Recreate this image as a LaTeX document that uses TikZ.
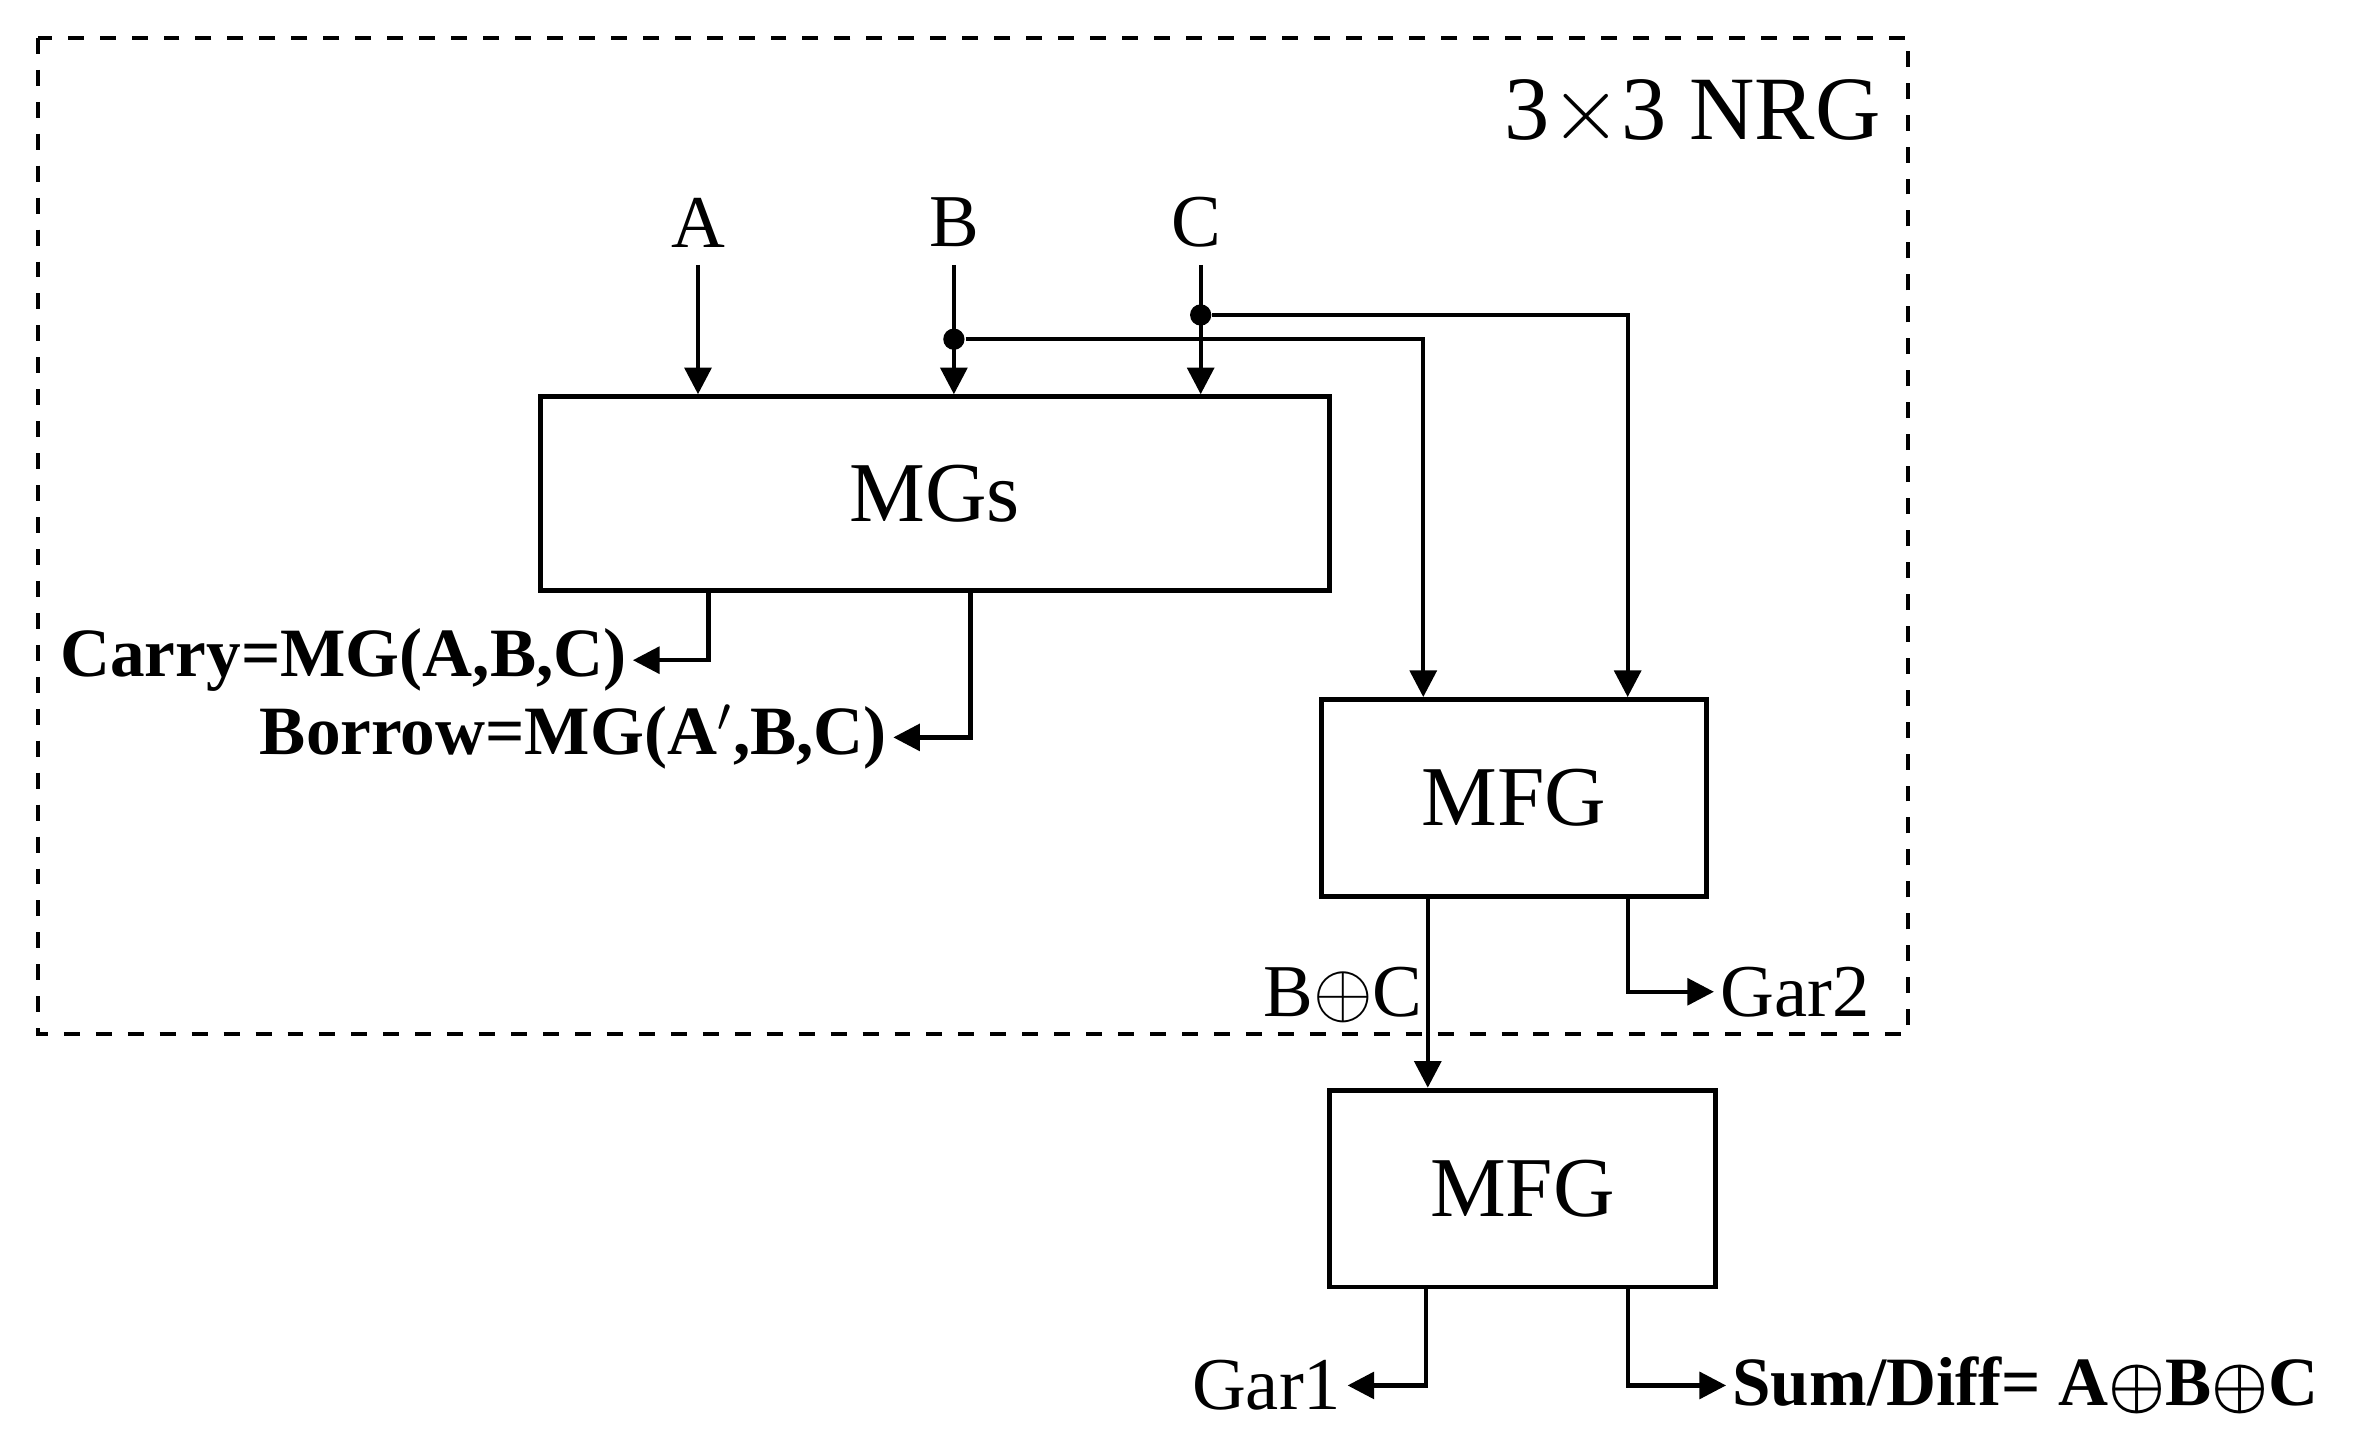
\documentclass[tikz,border=0pt]{standalone}
\usepackage{amsmath}
\usepackage{amssymb}
\usepackage{fontspec}
\setmainfont{Liberation Serif}
\usetikzlibrary{arrows.meta}
\begin{document}
\begin{tikzpicture}[x=0.01cm,y=-0.01cm,
  blk/.style={draw, line width=0.9pt, inner sep=0pt, font=\fontsize{16}{18}\selectfont},
  lbl/.style={inner sep=1pt, font=\fontsize{14}{16}\selectfont},
  blbl/.style={inner sep=1pt, font=\fontsize{13}{15}\selectfont\bfseries},
  wire/.style={line width=0.8pt},
  arr/.style={wire, -{Triangle[length=5pt,width=5pt]}},
  dot/.style={circle, fill, inner sep=0pt, minimum size=4pt}]
\useasboundingbox (0,0) rectangle (1560,950);
\draw[dashed, line width=0.8pt] (25,25) rectangle (1260,683);
\node[lbl, font=\fontsize{17}{19}\selectfont] (nrg) at (1118,75) {3$\times$3 NRG};

\node[blk, minimum width=5.21cm, minimum height=1.28cm] (mgs) at (617.5,326) {MGs};
\node[blk, minimum width=2.54cm, minimum height=1.30cm] (mfg1) at (1000,527) {MFG};
\node[blk, minimum width=2.55cm, minimum height=1.30cm] (mfg2) at (1005.5,785) {MFG};

\node[lbl] (a) at (461,147) {A};
\node[lbl] (b) at (630,147) {B};
\node[lbl] (c) at (790,147) {C};
\coordinate (aT) at (461,175);
\coordinate (bT) at (630,175);
\coordinate (cT) at (793,175);
\node[dot] (bd) at (630,224) {};
\node[dot] (cd) at (793,208) {};

\draw[arr] (aT) -- (aT |- mgs.north);
\draw[arr] (bT) -- (bT |- mgs.north);
\draw[arr] (cT) -- (cT |- mgs.north);
\draw[arr] (bd) -| (940,0 |- mfg1.north);
\draw[arr] (cd) -| (1075,0 |- mfg1.north);

\node[blbl, anchor=east] (carry) at (418,436) {Carry=MG(A,B,C)};
\node[blbl, anchor=east] (borrow) at (590,487) {Borrow=MG(A$'$,B,C)};
\draw[arr] (468,0 |- mgs.south) |- (carry.east);
\draw[arr] (641,0 |- mgs.south) |- (borrow.east);

\draw[arr] (943,0 |- mfg1.south) -- (943,0 |- mfg2.north);
\node[lbl] (bc) at (887,657) {B$\oplus$C};
\node[lbl, anchor=west] (gar2) at (1132,655) {Gar2};
\draw[arr] (1075,0 |- mfg1.south) |- (gar2.west);

\node[lbl, anchor=east] (gar1) at (890,915) {Gar1};
\node[blbl, anchor=west] (sum) at (1140,915) {Sum/Diff= A$\boldsymbol{\oplus}$B$\boldsymbol{\oplus}$C};
\draw[arr] (942,0 |- mfg2.south) |- (gar1.east);
\draw[arr] (1075,0 |- mfg2.south) |- (sum.west);
\end{tikzpicture}
\end{document}
